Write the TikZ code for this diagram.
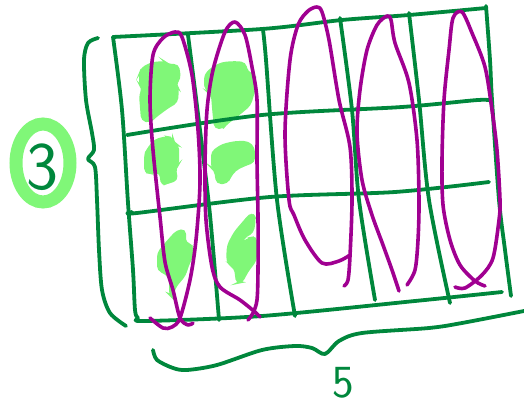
\documentclass[tikz,border=0pt]{standalone}
\usepackage{fontspec}
\setmainfont{Open Sans}
\definecolor{sketchgreen}{RGB}{0,135,60}
\definecolor{sketchplum}{RGB}{160,0,145}
\definecolor{sketchmarker}{RGB}{128,247,120}

\begin{document}
\begin{tikzpicture}[
    x=1pt, y=-1pt,
    gridline/.style={draw=sketchgreen, line width=3.8pt, line cap=round, line join=round},
    loopline/.style={draw=sketchplum, line width=3.6pt, line cap=round, line join=round},
    blob/.style={fill=sketchmarker, draw=sketchmarker, line width=2pt, rounded corners=4pt},
    ring/.style={draw=sketchmarker, line width=13pt},
    count/.style={text=sketchgreen, inner sep=0pt}
]
\useasboundingbox (0,0) rectangle (524,406);

% marker blobs, first two columns
\path[blob] (142,68) -- (152,63) -- (165,62) -- (168,65) -- (178,65) -- (180,78) -- (175,85) -- (178,88) -- (177,102) -- (167,108) -- (155,117) -- (150,122) -- (142,120) -- (140,95) -- (143,88) -- (140,85) -- (140,73) -- cycle;
\path[blob] (205,75) -- (212,68) -- (222,63) -- (235,62) -- (245,63) -- (247,72) -- (254,75) -- (255,88) -- (250,105) -- (238,115) -- (225,125) -- (223,128) -- (215,128) -- (213,108) -- (212,95) -- (207,92) -- (205,82) -- cycle;
\path[blob] (147,150) -- (155,140) -- (167,137) -- (173,138) -- (173,143) -- (178,145) -- (178,165) -- (175,168) -- (177,180) -- (167,183) -- (162,185) -- (160,172) -- (150,173) -- (145,172) -- (145,155) -- cycle;
\path[blob] (212,152) -- (222,145) -- (235,142) -- (248,142) -- (254,148) -- (254,162) -- (245,165) -- (235,170) -- (230,177) -- (227,183) -- (217,183) -- (215,170) -- (212,168) -- cycle;
\path[blob] (158,253) -- (167,242) -- (177,231) -- (185,230) -- (185,243) -- (192,245) -- (193,255) -- (188,265) -- (185,275) -- (175,287) -- (172,297) -- (170,295) -- (170,278) -- (165,273) -- (158,270) -- cycle;
\path[blob] (228,245) -- (235,232) -- (247,218) -- (252,213) -- (255,218) -- (253,232) -- (243,238) -- (242,243) -- (250,238) -- (256,237) -- (256,260) -- (247,272) -- (242,282) -- (237,283) -- (235,268) -- (230,265) -- (227,260) -- cycle;

% grid
\draw[gridline] plot[smooth, tension=0.5] coordinates {(113,37) (262,29) (342,20) (409,15) (486,8)};
\draw[gridline] plot[smooth, tension=0.5] coordinates {(113,37) (122,110) (128,203) (133,270) (135,310) (138,318) (145,321) (262,316) (415,301) (502,292)};
\draw[gridline] plot[smooth, tension=0.5] coordinates {(486,6) (490,60) (492,100) (499,200) (505,250) (511,296)};
\draw[gridline] plot[smooth, tension=0.5] coordinates {(127,135) (262,115) (402,107) (478,100) (492,101)};
\draw[gridline] plot[smooth, tension=0.5] coordinates {(132,212) (137,213) (270,197) (395,192) (489,182)};
\draw[gridline] plot[smooth, tension=0.5] coordinates {(188,35) (200,130) (210,215) (219,320)};
\draw[gridline] plot[smooth, tension=0.5] coordinates {(263,30) (266,60) (277,200) (295,316)};
\draw[gridline] plot[smooth, tension=0.5] coordinates {(340,18) (352,110) (359,200) (375,300)};
\draw[gridline] plot[smooth, tension=0.5] coordinates {(409,13) (419,100) (429,200) (450,303)};

% braces
\draw[gridline] plot[smooth, tension=0.5] coordinates {(98,38) (88,43) (84,60) (86,100) (92,133) (94,150) (88,159) (95,167) (97,200) (99,250) (102,290) (110,313) (126,326)};
\draw[gridline] plot[smooth, tension=0.5] coordinates {(153,350) (157,360) (173,368) (187,370) (217,365) (262,350) (295,346) (312,348) (325,354) (339,341) (362,333) (429,328) (462,323) (524,311)};

% loops round the columns
\draw[loopline] plot[smooth, tension=0.5] coordinates {(193,323) (188,325) (180,318) (173,290) (165,262) (160,217) (153,150) (150,100) (153,55) (163,38) (175,32) (182,37) (192,75) (198,130) (200,183) (196,240) (190,280) (180,318) (172,327) (163,328) (150,318)};
\draw[loopline] plot[smooth, tension=0.5] coordinates {(248,320) (253,313) (257,300) (258,270) (258,217) (257,160) (257,100) (252,67) (245,35) (235,22) (225,32) (213,70) (207,110) (205,167) (206,220) (212,267) (220,287) (240,300) (255,312) (260,317)};
\draw[loopline] plot[smooth, tension=0.5] coordinates {(344,286) (348,280) (350,256) (352,200) (350,147) (339,100) (329,40) (322,12) (317,7) (308,11) (298,25) (290,60) (285,133) (289,200) (294,215) (305,240) (322,263) (339,261) (350,255)};
\draw[loopline] plot[smooth, tension=0.5] coordinates {(399,291) (392,270) (383,245) (372,215) (362,180) (357,133) (360,90) (367,50) (377,25) (387,16) (391,20) (395,43) (409,83) (417,140) (419,200) (418,240) (415,270) (407,285)};
\draw[loopline] plot[smooth, tension=0.5] coordinates {(455,287) (465,288) (482,275) (493,258) (499,220) (500,200) (497,150) (492,110) (485,67) (472,33) (462,12) (453,18) (449,50) (444,100) (442,160) (443,205) (450,240) (460,265) (475,281) (485,286)};

% counts
\draw[ring] (43,163) ellipse [x radius=27, y radius=39];
\node[count, font=\sffamily\fontsize{68}{68}\selectfont] (three) at (42,167) {3};
\node[count, font=\sffamily\fontsize{46}{46}\selectfont] (five) at (343,383) {5};
\end{tikzpicture}
\end{document}
